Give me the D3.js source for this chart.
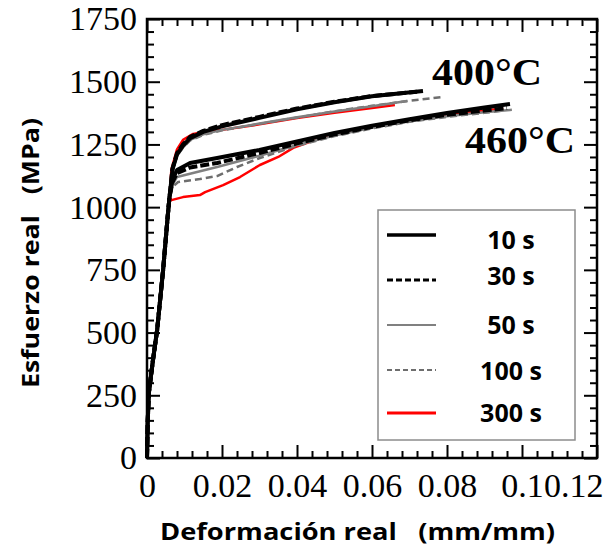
<!DOCTYPE html>
<html lang="es">
<head>
<meta charset="UTF-8">
<title>Esfuerzo real vs deformación real</title>
<style>
  body { margin: 0; background: #fff; }
</style>
</head>
<body>
<script src="https://cdn.jsdelivr.net/npm/d3@7"></script>
<script>
// ---- data ----
const seriesNames = ["10 s", "30 s", "50 s", "100 s", "300 s"];
const xMajorTicks = [0, 0.02, 0.04, 0.06, 0.08, 0.1, 0.12];
const yMajorTicks = [0, 250, 500, 750, 1000, 1250, 1500, 1750];

// shared elastic loading part [strain, stress]
const elastic = [[0, 0], [0.0002, 150], [0.0005, 260], [0.0015, 380], [0.0027, 510], [0.0043, 750], [0.0055, 960], [0.006, 1040]];

// 400 °C
const c400_10 = [[0.0068, 1150], [0.008, 1210], [0.0096, 1245], [0.0115, 1275], [0.015, 1300], [0.02, 1322], [0.03, 1356], [0.04, 1390], [0.05, 1418], [0.06, 1442], [0.0736, 1463]];
const c400_30 = [[0.0068, 1155], [0.008, 1215], [0.0096, 1250], [0.0115, 1280], [0.015, 1304], [0.02, 1327], [0.03, 1360], [0.04, 1393], [0.05, 1420], [0.06, 1443], [0.072, 1460]];
const c400_50 = [[0.0068, 1145], [0.008, 1205], [0.0096, 1238], [0.0115, 1268], [0.015, 1290], [0.02, 1308], [0.03, 1333], [0.04, 1358], [0.05, 1381], [0.06, 1402], [0.0693, 1423]];
const c400_100 = [[0.0068, 1145], [0.008, 1205], [0.0096, 1238], [0.0115, 1266], [0.015, 1288], [0.02, 1306], [0.03, 1332], [0.04, 1357], [0.05, 1382], [0.06, 1404], [0.07, 1424], [0.0789, 1439]];
const c400_300 = [[0.0065, 1150], [0.008, 1230], [0.0096, 1268], [0.0123, 1292], [0.016, 1302], [0.02, 1308], [0.03, 1330], [0.04, 1355], [0.05, 1376], [0.06, 1395], [0.0661, 1407]];

// 460 °C
const c460_10 = [[0.0068, 1110], [0.008, 1148], [0.0115, 1176], [0.0187, 1196], [0.03, 1228], [0.04, 1262], [0.05, 1296], [0.06, 1325], [0.07, 1350], [0.08, 1375], [0.09, 1397], [0.0968, 1411]];
const c460_30 = [[0.0068, 1100], [0.008, 1136], [0.0115, 1158], [0.0187, 1176], [0.03, 1216], [0.04, 1254], [0.05, 1290], [0.06, 1320], [0.07, 1346], [0.08, 1368], [0.09, 1385], [0.096, 1395]];
const c460_50 = [[0.0068, 1090], [0.008, 1120], [0.012, 1135], [0.0187, 1160], [0.03, 1205], [0.04, 1248], [0.05, 1285], [0.06, 1316], [0.07, 1342], [0.08, 1362], [0.09, 1378], [0.0973, 1388]];
const c460_100 = [[0.0068, 1080], [0.0083, 1100], [0.0141, 1112], [0.0187, 1124], [0.024, 1160], [0.0301, 1196], [0.04, 1245], [0.05, 1283], [0.06, 1314], [0.07, 1340], [0.08, 1360], [0.09, 1376], [0.095, 1385]];
const c460_300 = [[0.0065, 1028], [0.0096, 1040], [0.0141, 1048], [0.0155, 1060], [0.0203, 1088], [0.0248, 1120], [0.0301, 1168], [0.035, 1200], [0.039, 1236], [0.045, 1268], [0.05, 1290], [0.06, 1320], [0.07, 1346], [0.08, 1368], [0.09, 1385], [0.095, 1393]];

// ---- styles ----
const styles = {
  "10 s":  { color: "#000", width: 4, dash: null,  lw: 3.5, ldash: null },
  "30 s":  { color: "#000", width: 4, dash: "9,3", lw: 3,   ldash: "6,3" },
  "50 s":  { color: "#808080", width: 2.5, dash: null,  lw: 2, ldash: null },
  "100 s": { color: "#6e6e6e", width: 2.5, dash: "7,4", lw: 2, ldash: "5,3" },
  "300 s": { color: "#ff0000", width: 2.5, dash: null,  lw: 3, ldash: null }
};

const curves = [
  { name: "300 s", pts: c400_300 }, { name: "100 s", pts: c400_100 }, { name: "50 s", pts: c400_50 },
  { name: "10 s", pts: c400_10 }, { name: "30 s", pts: c400_30 },
  { name: "300 s", pts: c460_300 }, { name: "100 s", pts: c460_100 }, { name: "50 s", pts: c460_50 },
  { name: "10 s", pts: c460_10 }, { name: "30 s", pts: c460_30 }
];

const W = 615, H = 552;
const plot = { left: 147, right: 597, top: 19, bottom: 458 };

const svg = d3.select("body").append("svg")
  .attr("width", W).attr("height", H)
  .style("font-family", "'Liberation Serif', serif");

const x = d3.scaleLinear().domain([0, 0.12]).range([plot.left, plot.right]);
const y = d3.scaleLinear().domain([0, 1750]).range([plot.bottom, plot.top]);

const xMinor = d3.range(0, 0.1201, 0.004).filter(v => !xMajorTicks.some(t => Math.abs(t - v) < 1e-9));
const yMinor = d3.range(0, 1751, 50).filter(v => v % 250 !== 0);

// curves
const line = d3.line().x(d => x(d[0])).y(d => y(d[1]));
svg.append("g").selectAll("path")
  .data(curves)
  .join("path")
  .attr("d", d => line(elastic.concat(d.pts)))
  .attr("fill", "none")
  .attr("stroke", d => styles[d.name].color)
  .attr("stroke-width", d => styles[d.name].width)
  .attr("stroke-dasharray", d => styles[d.name].dash)
  .attr("stroke-linejoin", "round");

// axes (ticks inward)
function tickAxis(axis, pos) {
  const g = svg.append("g").attr("transform", pos).call(axis);
  g.select(".domain").remove();
  g.selectAll(".tick line").attr("stroke", "#000").attr("stroke-width", 2);
  return g;
}

const fmtX = d => d === 0 ? "0" : (d === 0.1 ? "0.1" : d3.format(".2f")(d));

const gx = tickAxis(d3.axisBottom(x).tickValues(xMajorTicks).tickFormat(fmtX).tickSizeInner(-13).tickSizeOuter(0).tickPadding(15), `translate(0,${plot.bottom})`);
tickAxis(d3.axisBottom(x).tickValues(xMinor).tickFormat("").tickSizeInner(-7).tickSizeOuter(0), `translate(0,${plot.bottom})`);
tickAxis(d3.axisTop(x).tickValues(xMajorTicks).tickFormat("").tickSizeInner(-13).tickSizeOuter(0), `translate(0,${plot.top})`);
tickAxis(d3.axisTop(x).tickValues(xMinor).tickFormat("").tickSizeInner(-7).tickSizeOuter(0), `translate(0,${plot.top})`);

const gy = tickAxis(d3.axisLeft(y).tickValues(yMajorTicks).tickFormat(d3.format("d")).tickSizeInner(-13).tickSizeOuter(0).tickPadding(10), `translate(${plot.left},0)`);
tickAxis(d3.axisLeft(y).tickValues(yMinor).tickFormat("").tickSizeInner(-7).tickSizeOuter(0), `translate(${plot.left},0)`);
tickAxis(d3.axisRight(y).tickValues(yMajorTicks).tickFormat("").tickSizeInner(-13).tickSizeOuter(0), `translate(${plot.right},0)`);
tickAxis(d3.axisRight(y).tickValues(yMinor).tickFormat("").tickSizeInner(-7).tickSizeOuter(0), `translate(${plot.right},0)`);

[gx, gy].forEach(g => g.selectAll("text")
  .attr("fill", "#000")
  .style("font-family", "'Liberation Serif', serif")
  .style("font-size", "34px"));

// last x label is pushed left against the edge
gx.selectAll(".tick text").filter(d => d === 0.12).attr("text-anchor", "end").attr("dx", 6);

// frame
svg.append("rect")
  .attr("x", plot.left).attr("y", plot.top)
  .attr("width", plot.right - plot.left).attr("height", plot.bottom - plot.top)
  .attr("fill", "none").attr("stroke", "#000").attr("stroke-width", 2.5);

// temperature labels
svg.append("text").attr("x", 432).attr("y", 85).text("400°C")
  .attr("font-weight", "bold").attr("font-size", 37)
  .attr("textLength", 110).attr("lengthAdjust", "spacingAndGlyphs");
svg.append("text").attr("x", 465).attr("y", 153).text("460°C")
  .attr("font-weight", "bold").attr("font-size", 37)
  .attr("textLength", 110).attr("lengthAdjust", "spacingAndGlyphs");

// axis titles
const sans = "'Open Sans', 'Noto Sans', sans-serif";
svg.append("text")
  .attr("x", 160).attr("y", 540)
  .style("font-family", sans).attr("font-weight", "bold").attr("font-size", 23)
  .attr("xml:space", "preserve")
  .attr("textLength", 395).attr("lengthAdjust", "spacingAndGlyphs")
  .text("Deformación real   (mm/mm)");

svg.append("text")
  .attr("transform", "translate(39,388) rotate(-90)")
  .style("font-family", sans).attr("font-weight", "bold").attr("font-size", 23)
  .attr("xml:space", "preserve")
  .attr("textLength", 270).attr("lengthAdjust", "spacingAndGlyphs")
  .text("Esfuerzo real   (MPa)");

// legend
const legend = svg.append("g");
legend.append("rect")
  .attr("x", 378).attr("y", 210).attr("width", 197).attr("height", 230)
  .attr("fill", "#fff").attr("stroke", "#8c8c8c").attr("stroke-width", 1.5);

const legendY = [235, 280, 325, 370, 413];
const legendTextY = [240, 276, 325, 371, 413];
const items = legend.selectAll("g.item")
  .data(seriesNames)
  .join("g").attr("class", "item");
items.append("line")
  .attr("x1", 387).attr("x2", 436)
  .attr("y1", (d, i) => legendY[i]).attr("y2", (d, i) => legendY[i])
  .attr("stroke", d => styles[d].color)
  .attr("stroke-width", d => styles[d].lw)
  .attr("stroke-dasharray", d => styles[d].ldash);
items.append("text")
  .attr("x", 511).attr("y", (d, i) => legendTextY[i])
  .attr("dy", "0.36em")
  .attr("text-anchor", "middle")
  .style("font-family", sans).attr("font-weight", "bold").attr("font-size", 25)
  .text(d => d);
</script>
</body>
</html>
